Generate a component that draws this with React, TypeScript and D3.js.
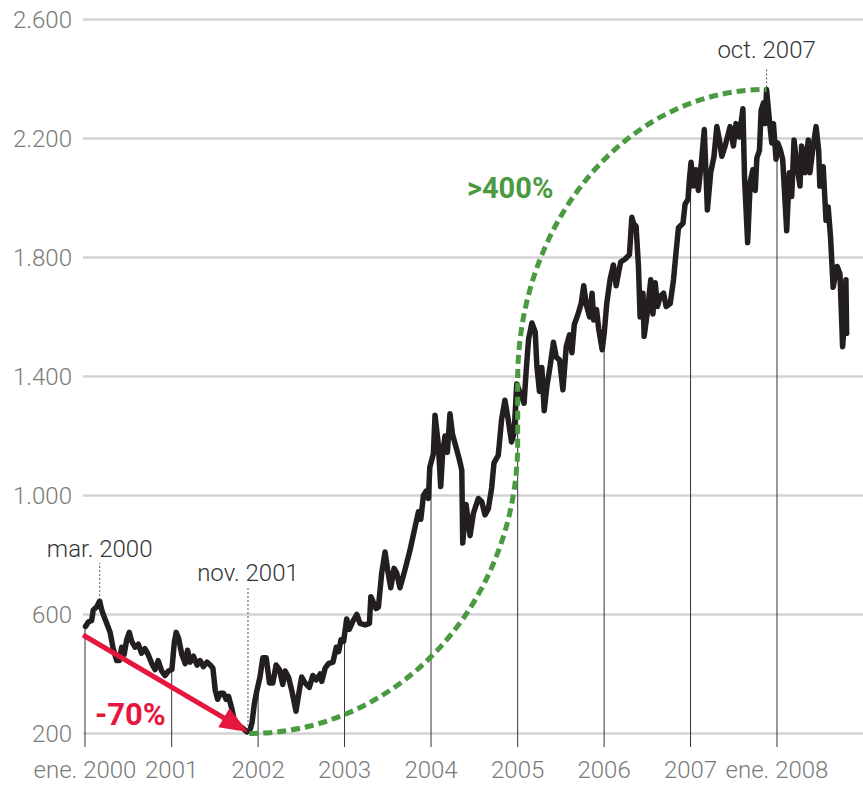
import React from "react";
import * as d3 from "d3";

const DATES: string[] = [
  "2000-01-03","2000-01-15","2000-01-29","2000-02-05","2000-02-19","2000-03-03","2000-03-10","2000-03-18","2000-04-02","2000-04-16","2000-04-29","2000-05-14","2000-05-25","2000-06-04","2000-06-14","2000-06-25","2000-07-06","2000-07-16","2000-07-30","2000-08-13","2000-08-27","2000-09-10","2000-09-24","2000-10-09","2000-10-23","2000-11-05","2000-11-20","2000-12-04","2000-12-18",
  "2001-01-02","2001-01-12","2001-01-20","2001-01-30","2001-02-13","2001-02-27","2001-03-09","2001-03-20","2001-04-03","2001-04-18","2001-05-01","2001-05-15","2001-05-30","2001-06-13","2001-06-24","2001-07-04","2001-07-14","2001-07-25","2001-08-08","2001-08-19","2001-08-29","2001-09-13","2001-09-22","2001-10-01","2001-10-15","2001-11-01","2001-11-15","2001-11-29","2001-12-06","2001-12-16","2001-12-27",
  "2002-01-09","2002-01-21","2002-02-04","2002-02-18","2002-03-04","2002-03-18","2002-04-01","2002-04-15","2002-04-25","2002-05-09","2002-05-23","2002-06-10","2002-06-24","2002-07-04","2002-07-18","2002-08-05","2002-08-20","2002-09-03","2002-09-20","2002-09-27","2002-10-11","2002-10-25","2002-11-13","2002-11-27","2002-12-07","2002-12-17","2002-12-28",
  "2003-01-10","2003-01-21","2003-02-07","2003-02-22","2003-03-07","2003-03-29","2003-04-16","2003-04-22","2003-05-03","2003-05-14","2003-05-24","2003-06-07","2003-06-21","2003-07-02","2003-07-15","2003-07-29","2003-08-09","2003-08-23","2003-09-13","2003-10-04","2003-10-26","2003-11-09","2003-11-19","2003-11-30","2003-12-12","2003-12-21","2003-12-27",
  "2004-01-11","2004-01-18","2004-02-01","2004-02-11","2004-02-19","2004-02-29","2004-03-10","2004-03-21","2004-04-01","2004-04-15","2004-04-30","2004-05-10","2004-05-14","2004-05-28","2004-06-14","2004-06-28","2004-07-19","2004-08-02","2004-08-16","2004-08-30","2004-09-13","2004-09-23","2004-10-11","2004-10-25","2004-11-08","2004-11-22","2004-12-06","2004-12-17","2004-12-28",
  "2005-01-09","2005-01-19","2005-01-28","2005-02-06","2005-02-16","2005-03-02","2005-03-16","2005-03-23","2005-04-03","2005-04-13","2005-04-23","2005-05-04","2005-05-18","2005-06-01","2005-06-13","2005-06-27","2005-07-11","2005-07-25","2005-08-08","2005-08-18","2005-08-28","2005-09-11","2005-09-26","2005-10-07","2005-10-18","2005-11-01","2005-11-11","2005-11-18","2005-11-30","2005-12-09","2005-12-24",
  "2006-01-02","2006-01-12","2006-01-26","2006-02-09","2006-02-21","2006-03-02","2006-03-12","2006-03-31","2006-04-18","2006-04-28","2006-05-05","2006-05-16","2006-05-26","2006-06-02","2006-06-14","2006-06-19","2006-06-30","2006-07-17","2006-07-26","2006-08-05","2006-08-14","2006-08-26","2006-09-09","2006-09-20","2006-10-07","2006-10-21","2006-11-01","2006-11-11","2006-11-30","2006-12-09","2006-12-21","2006-12-27",
  "2007-01-03","2007-01-13","2007-01-24","2007-02-03","2007-02-17","2007-02-28","2007-03-13","2007-03-27","2007-04-10","2007-04-22","2007-05-03","2007-05-13","2007-05-27","2007-06-17","2007-07-01","2007-07-12","2007-07-26","2007-08-10","2007-08-17","2007-08-30","2007-09-10","2007-09-21","2007-10-01","2007-10-08","2007-10-19","2007-10-26","2007-11-05","2007-11-12","2007-11-18","2007-11-30","2007-12-10","2007-12-17","2007-12-28",
  "2008-01-04","2008-01-14","2008-01-25","2008-02-11","2008-02-22","2008-03-03","2008-03-13","2008-03-24","2008-04-07","2008-04-14","2008-04-28","2008-05-12","2008-05-19","2008-06-02","2008-06-14","2008-06-25","2008-06-30","2008-07-14","2008-07-26","2008-08-04","2008-08-14","2008-08-25","2008-09-11","2008-09-23","2008-10-04","2008-10-10","2008-10-18","2008-10-21",
];

const VALUES: number[] = [
  560,575,580,615,625,645,620,600,570,540,485,445,445,490,465,515,540,510,490,500,470,485,465,435,415,445,410,395,410,
  415,505,540,520,465,435,480,440,460,430,445,425,440,430,420,345,315,335,335,315,325,280,245,220,225,215,205,215,235,300,345,
  390,455,455,370,370,430,415,365,410,390,345,275,345,390,370,355,395,380,400,375,420,435,440,490,475,515,510,
  585,550,580,600,570,565,570,660,640,620,625,740,810,750,690,755,740,690,750,815,895,945,920,1000,1015,990,1095,
  1140,1270,1170,1030,1140,1200,1145,1275,1205,1165,1120,1085,840,970,865,940,990,980,935,955,1025,1110,1135,1255,1320,1255,1180,1210,1375,
  1350,1330,1310,1420,1525,1580,1550,1435,1350,1430,1285,1365,1435,1515,1465,1455,1355,1500,1540,1480,1575,1605,1645,1705,1640,1600,1680,1590,1625,1560,1490,
  1550,1645,1725,1775,1705,1745,1785,1795,1810,1935,1915,1905,1770,1600,1680,1535,1600,1725,1610,1715,1635,1670,1680,1635,1645,1725,1820,1900,1915,1980,1995,2060,
  2120,2040,2095,2025,2130,2230,1960,2085,2140,2240,2195,2140,2175,2240,2175,2250,2205,2300,2065,1850,2055,2095,2025,2135,2160,2295,2320,2250,2365,2260,2185,2250,2130,
  2185,2165,2130,1890,2085,2005,2195,2115,2040,2175,2085,2195,2085,2175,2240,2160,2040,2105,1925,1970,1870,1700,1770,1745,1500,1565,1725,1545,
];

const Y_TICKS: number[] = [200, 600, 1000, 1400, 1800, 2200, 2600];
const X_TICKS: string[] = ["2000-01-01","2001-01-01","2002-01-01","2003-01-01","2004-01-01","2005-01-01","2006-01-01","2007-01-01","2008-01-01"];
const X_TICK_LABELS: string[] = ["ene. 2000","2001","2002","2003","2004","2005","2006","2007","ene. 2008"];

// annotations (data coordinates)
const PEAK_2000 = { label: "mar. 2000", date: "2000-03-03", value: 645 };
const LOW_2001 = { label: "nov. 2001", date: "2001-11-15", value: 205 };
const PEAK_2007 = { label: "oct. 2007", date: "2007-11-18", value: 2365 };
const DROP_START = { date: "2000-01-01", value: 531 };
const DROP_LABEL = "-70%";
const RISE_LABEL = ">400%";
const RISE_START = { date: "2001-11-25", value: 200 };
const RISE_MID = { date: "2005-01-01", lower: 1177, upper: 1390 };

const W = 863;
const H = 785;
const parse = d3.utcParse("%Y-%m-%d");
const fmt = d3.formatLocale({ decimal: ",", thousands: ".", grouping: [3], currency: ["", "€"] }).format(",");

const RED = "#e5173f";
const GREEN = "#4b9a42";
const LINE = "#231f20";

export default function App() {
  const x = d3.scaleUtc().domain([parse("2000-01-01")!, parse("2008-01-01")!]).range([85, 777]);
  const y = d3.scaleLinear().domain([200, 2600]).range([733.5, 19.5]);

  const data = DATES.map((d, i) => ({ date: parse(d)!, value: VALUES[i] }));
  const line = d3.line<{ date: Date; value: number }>().x(d => x(d.date)).y(d => y(d.value)).curve(d3.curveLinear);

  const bis = d3.bisector((d: { date: Date }) => d.date).left;
  const valueAt = (dt: Date) => {
    const i = bis(data, dt);
    if (i <= 0) return data[0].value;
    if (i >= data.length) return data[data.length - 1].value;
    const a = data[i - 1], b = data[i];
    const t = (+dt - +a.date) / (+b.date - +a.date);
    return a.value + t * (b.value - a.value);
  };

  const baseY = 747;

  // red arrow
  const ax0 = x(parse(DROP_START.date)!) - 2, ay0 = y(DROP_START.value);
  const ax1 = x(parse(LOW_2001.date)!) + 1, ay1 = y(LOW_2001.value);
  const ang = Math.atan2(ay1 - ay0, ax1 - ax0);
  const HL = 28, HW = 11;
  const cx = Math.cos(ang), sx = Math.sin(ang);
  const bx = ax1 - HL * cx, by = ay1 - HL * sx;
  const head = `M${ax1},${ay1} L${bx - HW * sx},${by + HW * cx} L${bx + HW * sx},${by - HW * cx} Z`;

  // green curve: two quarter ellipses joined by vertical segment
  const gx0 = x(parse(RISE_START.date)!), gy0 = y(RISE_START.value);
  const gmx = x(parse(RISE_MID.date)!);
  const gyl = y(RISE_MID.lower), gyu = y(RISE_MID.upper);
  const gx1 = x(parse(PEAK_2007.date)!), gy1 = y(PEAK_2007.value);
  const greenPath = `M${gx0},${gy0} A${gmx - gx0},${gy0 - gyl} 0 0 0 ${gmx},${gyl} L${gmx},${gyu} A${gx1 - gmx},${gyu - gy1} 0 0 1 ${gx1},${gy1}`;

  const p2000x = x(parse(PEAK_2000.date)!), p2000y = y(PEAK_2000.value);
  const l2001x = x(parse(LOW_2001.date)!), l2001y = y(LOW_2001.value);
  const p2007x = x(parse(PEAK_2007.date)!), p2007y = y(PEAK_2007.value);

  const axisFont = { fontFamily: "Roboto, sans-serif", fontWeight: 300, fontSize: 24 } as const;

  return (
    <svg width={W} height={H} style={{ position: "absolute", left: 0, top: 0, background: "#fff" }}>
      {/* gridlines */}
      {Y_TICKS.map(t => (
        <g key={t}>
          <line x1={83} x2={863} y1={y(t)} y2={y(t)} stroke="#d3d3d3" strokeWidth={2.5} />
          <text x={72} y={y(t)} dy="0.35em" textAnchor="end" fill="#7a7a7a" {...axisFont}>{fmt(t)}</text>
        </g>
      ))}
      {/* year tick lines */}
      {X_TICKS.map((t, i) => {
        const dt = parse(t)!;
        const xx = x(dt);
        return (
          <g key={t}>
            <line x1={xx} x2={xx} y1={y(valueAt(dt))} y2={baseY} stroke="#333" strokeWidth={1} />
            <text x={xx} y={770} dy="0.35em" textAnchor="middle" fill="#7a7a7a" {...axisFont}>{X_TICK_LABELS[i]}</text>
          </g>
        );
      })}
      {/* main line */}
      <path d={line(data) || ""} fill="none" stroke={LINE} strokeWidth={5.5} strokeLinejoin="round" strokeLinecap="round" />
      {/* green dashed */}
      <path d={greenPath} fill="none" stroke={GREEN} strokeWidth={5} strokeDasharray="9 5" />
      {/* red arrow */}
      <line x1={ax0} y1={ay0} x2={bx + 2 * cx} y2={by + 2 * sx} stroke={RED} strokeWidth={5} />
      <path d={head} fill={RED} />
      {/* dotted annotation lines */}
      <line x1={p2000x} x2={p2000x} y1={p2000y - 5} y2={p2000y - 38} stroke="#555" strokeWidth={1} strokeDasharray="2 2" />
      <line x1={l2001x + 1} x2={l2001x + 1} y1={l2001y - 2} y2={588} stroke="#555" strokeWidth={1} strokeDasharray="2 2" />
      <line x1={p2007x} x2={p2007x} y1={p2007y - 2} y2={68} stroke="#555" strokeWidth={1} strokeDasharray="2 2" />
      {/* annotation labels */}
      <text x={p2000x} y={p2000y - 53} dy="0.35em" textAnchor="middle" fill="#333" {...axisFont}>{PEAK_2000.label}</text>
      <text x={l2001x + 1} y={573} dy="0.35em" textAnchor="middle" fill="#333" {...axisFont}>{LOW_2001.label}</text>
      <text x={p2007x} y={50} dy="0.35em" textAnchor="middle" fill="#333" {...axisFont}>{PEAK_2007.label}</text>
      <text x={95} y={714} dy="0.35em" fill={RED} fontFamily="Roboto, sans-serif" fontWeight={700} fontSize={31}>{DROP_LABEL}</text>
      <text x={467} y={188} dy="0.35em" fill={GREEN} fontFamily="Roboto, sans-serif" fontWeight={700} fontSize={29}>{RISE_LABEL}</text>
    </svg>
  );
}
